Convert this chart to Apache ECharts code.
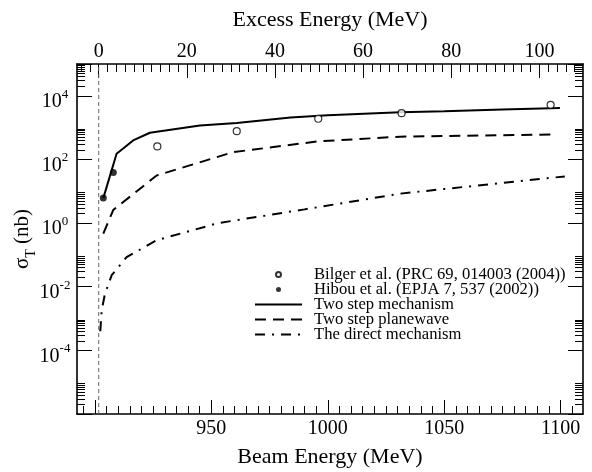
<!DOCTYPE html>
<html><head><meta charset="utf-8">
<script src="https://cdn.jsdelivr.net/npm/echarts@6/dist/echarts.min.js"></script>
<style>html,body{margin:0;padding:0;background:#fff}#c{width:592px;height:472px}</style>
</head><body><div id="c"></div>
<script>
// ---------- data ----------
const bilgerX = [926.8, 960.9, 995.9, 1031.7, 1095.7];
const bilgerY = [256, 775, 1900, 2850, 5210];
const hibouX = [903.6, 907.9];
const hibouY = [6.1, 39];
const twoStepX = [903.6, 909.3, 916.4, 923.6, 945.1, 960.9, 984, 1000, 1031, 1050, 1075, 1099.7];
const twoStepY = [6.1, 151, 396, 690, 1170, 1410, 2100, 2450, 3050, 3300, 3700, 4150];
const planewaveX = [903.6, 907.9, 926.5, 959.4, 995.9, 1031, 1095.7];
const planewaveY = [0.47, 2.6, 31.4, 170, 370, 520, 610];
const directX = [902.3, 902.9, 904.3, 907.2, 913.6, 926.5, 953, 990, 1031, 1051, 1101.8];
const directY = [0.0004, 0.0018, 0.006, 0.023, 0.085, 0.29, 1.0, 2.7, 8.4, 12, 29.3];
const thresholdExcess = [0, 0];
const thresholdY = [1e-6, 1e5];

// ---------- ticks / labels ----------
const beamTicks = [900, 950, 1000, 1050, 1100];
const beamLabels = [950, 1000, 1050, 1100];
const beamMinor = [895,905,910,915,920,925,930,935,940,945,955,960,965,970,975,980,985,990,995,
  1005,1010,1015,1020,1025,1030,1035,1040,1045,1055,1060,1065,1070,1075,1080,1085,1090,1095,1105];
const excessTicks = [0, 20, 40, 60, 80, 100];
const excessMinor = [-4,-2,2,4,6,8,10,12,14,16,18,22,24,26,28,30,32,34,36,38,42,44,46,48,50,52,54,56,58,
  62,64,66,68,70,72,74,76,78,82,84,86,88,90,92,94,96,98,102,104,106,108];
const yLabelExps = [-4, -2, 0, 2, 4];
const yMinorDecades = [-6, -4, -2, 0, 2, 4];
const yMinorMult = [2, 3, 4, 5, 6, 7, 8, 9];
const legendNames = ['Bilger et al. (PRC 69, 014003 (2004))', 'Hibou et al. (EPJA 7, 537 (2002))',
  'Two step mechanism', 'Two step planewave', 'The direct mechanism'];

const FONT = 'Liberation Serif';
const zip = (xs, ys) => xs.map((x, i) => [x, ys[i]]);
const yMinorPos = [];
yMinorDecades.forEach(e => yMinorMult.forEach(k => yMinorPos.push(e + Math.log10(k))));

const BEAM_MIN = 892.3, BEAM_MAX = 1109.6, EX_MIN = -4.93, EX_MAX = 109.9;
const axLine = { show: true, onZero: false, lineStyle: { color: '#000', width: 1.6 } };
const noLine = { show: false, onZero: false };
const lbl = { fontFamily: FONT, fontSize: 20, color: '#000', formatter: v => String(v) };

function xAx(pos, min, max, ticks, labels, len, showLine, name, gap, margin) {
  return {
    type: 'value', position: pos, min: min, max: max,
    axisLine: showLine ? axLine : noLine,
    axisTick: { show: true, inside: true, length: len, customValues: ticks, lineStyle: { color: '#000', width: 1 } },
    axisLabel: labels ? Object.assign({ customValues: labels, margin: margin }, lbl) : { show: false },
    splitLine: { show: false },
    name: name || '', nameLocation: 'middle', nameGap: gap || 0, nameMoveOverlap: false,
    nameTextStyle: { fontFamily: FONT, fontSize: 22, color: '#000' }
  };
}

const option = {
  animation: false,
  backgroundColor: '#fff',
  grid: { left: 77, right: 9, top: 64, bottom: 58, containLabel: false, outerBoundsMode: 'none' },
  legend: {
    data: legendNames.map((n, i) => i < 2 ? { name: n } : { name: n, itemStyle: { opacity: 0 } }),
    orient: 'vertical', left: 254, top: 266, padding: 0,
    itemWidth: 47, itemHeight: 5, itemGap: -2,
    textStyle: { fontFamily: FONT, fontSize: 16.6, color: '#000', lineHeight: 15.4, padding: [0, 0, 0, 7] }
  },
  xAxis: [
    xAx('bottom', BEAM_MIN, BEAM_MAX, beamTicks, beamLabels, 14, true, 'Beam Energy (MeV)', 32, 5),
    xAx('top', EX_MIN, EX_MAX, excessTicks, excessTicks, 14, true, 'Excess Energy (MeV)', 33, 2),
    xAx('bottom', BEAM_MIN, BEAM_MAX, beamMinor, null, 8, false),
    xAx('top', EX_MIN, EX_MAX, excessMinor, null, 8, false)
  ],
  yAxis: [
    {
      type: 'value', position: 'left', min: -6, max: 5, interval: 2,
      axisLine: axLine,
      axisTick: { show: true, inside: true, length: 15, lineStyle: { color: '#000', width: 1 } },
      axisLabel: {
        margin: 22, align: 'center', padding: [8, 0, 0, 0],
        formatter: v => yLabelExps.indexOf(v) < 0 ? '' : '{b|10}{s|' + v + '}',
        rich: {
          b: { fontFamily: FONT, fontSize: 20, color: '#000', verticalAlign: 'bottom' },
          s: { fontFamily: FONT, fontSize: 13, color: '#000', verticalAlign: 'bottom', padding: [0, 0, 11, 0] }
        }
      },
      splitLine: { show: false },
      name: '{s|σ}{t|T}{s| (nb)}', nameLocation: 'middle', nameGap: 39, nameMoveOverlap: false,
      nameTextStyle: {
        rich: {
          s: { fontFamily: FONT, fontSize: 21, color: '#000', verticalAlign: 'bottom', padding: [0, 0, 5, 0] },
          t: { fontFamily: FONT, fontSize: 14, color: '#000', verticalAlign: 'bottom' }
        }
      }
    },
    {
      type: 'value', position: 'right', min: -6, max: 5, interval: 2,
      axisLine: axLine,
      axisTick: { show: true, inside: true, length: 15, lineStyle: { color: '#000', width: 1 } },
      axisLabel: { show: false }, splitLine: { show: false }
    },
    {
      type: 'value', position: 'left', min: -6, max: 5,
      axisLine: noLine,
      axisTick: { show: true, inside: true, length: 8, customValues: yMinorPos, lineStyle: { color: '#000', width: 1 } },
      axisLabel: { show: false }, splitLine: { show: false }
    },
    {
      type: 'value', position: 'right', min: -6, max: 5,
      axisLine: noLine,
      axisTick: { show: true, inside: true, length: 8, customValues: yMinorPos, lineStyle: { color: '#000', width: 1 } },
      axisLabel: { show: false }, splitLine: { show: false }
    },
    {
      type: 'log', logBase: 10, position: 'left', min: 1e-6, max: 1e5, show: false,
      axisLine: noLine, splitLine: { show: false }
    }
  ],
  series: [
    {
      name: 'threshold', type: 'line', xAxisIndex: 1, yAxisIndex: 4, symbol: 'none', silent: true,
      data: zip(thresholdExcess, thresholdY),
      lineStyle: { color: '#666', width: 1, type: [4, 3] }, z: 1
    },
    {
      name: legendNames[2], type: 'line', xAxisIndex: 0, yAxisIndex: 4, symbol: 'none', showSymbol: false,
      data: zip(twoStepX, twoStepY), lineStyle: { color: '#000', width: 2, type: 'solid' }, itemStyle: { color: '#000' }, z: 3
    },
    {
      name: legendNames[3], type: 'line', xAxisIndex: 0, yAxisIndex: 4, symbol: 'none', showSymbol: false,
      data: zip(planewaveX, planewaveY), lineStyle: { color: '#000', width: 2, type: [11, 7] }, itemStyle: { color: '#000' }, z: 3
    },
    {
      name: legendNames[4], type: 'line', xAxisIndex: 0, yAxisIndex: 4, symbol: 'none', showSymbol: false,
      data: zip(directX, directY), lineStyle: { color: '#000', width: 2, type: [10, 7, 2, 7] }, itemStyle: { color: '#000' }, z: 3
    },
    {
      name: legendNames[0], type: 'scatter', xAxisIndex: 0, yAxisIndex: 4, symbol: 'circle', symbolSize: 7,
      data: zip(bilgerX, bilgerY), itemStyle: { color: '#fff', borderColor: '#000', borderWidth: 1.2 }, z: 5
    },
    {
      name: legendNames[1], type: 'scatter', xAxisIndex: 0, yAxisIndex: 4, symbol: 'circle', symbolSize: 7,
      data: zip(hibouX, hibouY), itemStyle: { color: '#000' }, z: 5
    }
  ]
};
const chart = echarts.init(document.getElementById('c'), null, { renderer: 'canvas' });
chart.setOption(option);
</script></body></html>
